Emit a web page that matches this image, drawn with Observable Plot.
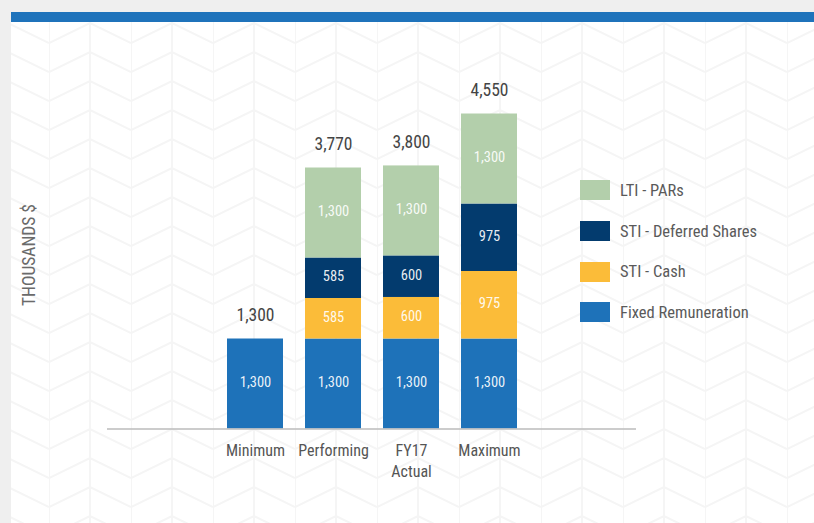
<!DOCTYPE html>
<html>
<head>
<meta charset="utf-8">
<script src="https://cdn.jsdelivr.net/npm/d3@7"></script>
<script src="https://cdn.jsdelivr.net/npm/@observablehq/plot@0.6"></script>
<style>
  html, body { margin: 0; padding: 0; background: #efefef; }
  #wrap { position: relative; width: 814px; height: 523px; overflow: hidden; font-family: Roboto, sans-serif; font-stretch: 87%; }
  #page { position: absolute; left: 11px; top: 12px; right: 0; bottom: 0; background-color: #fff; }
  #topbar { position: absolute; left: 11px; top: 12px; right: 0; height: 10px; background: #1f73bb; }
  #chart { position: absolute; left: 0; top: 0; }
  #ylabel { position: absolute; left: 29px; top: 255px; transform: translate(-50%, -50%) rotate(-90deg); font-size: 17.5px; color: #6a6a6a; white-space: nowrap; }
  #legend { position: absolute; left: 580px; top: 170px; }
  .item { display: flex; align-items: center; height: 40.7px; }
  .sw { width: 30px; height: 20px; margin-right: 10px; }
  .lab { font-size: 16.5px; color: #5a5a5a; }
</style>
</head>
<body>
<div id="wrap">
  <div id="page"></div>
  <div id="topbar"></div>
  <div id="chart"></div>
  <div id="ylabel">THOUSANDS $</div>
  <div id="legend"></div>
</div>
<script>
const categories = ["Minimum", "Performing", "FY17\nActual", "Maximum"];
const seriesNames = ["Fixed Remuneration", "STI - Cash", "STI - Deferred Shares", "LTI - PARs"];
const seriesColors = ["#1e72b9", "#fbbc39", "#033b6e", "#b3cfab"];
const fixedRemuneration = [1300, 1300, 1300, 1300];
const stiCash = [0, 585, 600, 975];
const stiDeferred = [0, 585, 600, 975];
const ltiPars = [0, 1300, 1300, 1300];

// chevron background pattern
const pat = `<svg xmlns='http://www.w3.org/2000/svg' width='82' height='29'>
<g fill='none' stroke='#f5f5f5' stroke-width='2'>
<path d='M0,20 L41,0 L82,20 M0,-9 L41,-29 L82,-9 M0,49 L41,29 L82,49'/>
<path d='M0,0 V29 M41,0 V29'/></g></svg>`;
const page = document.getElementById("page");
page.style.backgroundImage = `url("data:image/svg+xml,${encodeURIComponent(pat)}")`;
page.style.backgroundPosition = "38px 11px";

const seriesValues = [fixedRemuneration, stiCash, stiDeferred, ltiPars];
const data = [];
seriesNames.forEach((s, si) => {
  categories.forEach((c, ci) => {
    const v = seriesValues[si][ci];
    if (v > 0) data.push({cat: c, series: s, value: v, order: si});
  });
});
const totals = categories.map((c, ci) => ({cat: c, total: d3.sum(seriesValues, sv => sv[ci])}));

const font = 'Roboto, sans-serif';

const chart = Plot.plot({
  width: 814,
  height: 523,
  marginLeft: 107,
  marginRight: 178,
  marginTop: 113.5,
  marginBottom: 94.5,
  style: {background: "transparent", fontFamily: font, fontStretch: "87%"},
  x: {domain: categories, range: [107, 636], paddingInner: 0.285, paddingOuter: 1.52, label: null},
  y: {domain: [0, 4550], range: [428.5, 113.5], axis: null},
  color: {domain: seriesNames, range: seriesColors},
  marks: [
    Plot.barY(data, Plot.stackY({x: "cat", y: "value", fill: "series", order: "order", inset: 0})),
    Plot.text(data, Plot.stackY({x: "cat", y: "value", z: "series", order: "order",
      text: d => d3.format(",")(d.value), fill: "white", fontSize: 14.5, fillOpacity: 0.92, dy: -1.5})),
    Plot.text(totals, {x: "cat", y: "total", text: d => d3.format(",")(d.total), dy: -24, fontSize: 17.5, fill: "#444"}),
    Plot.ruleY([0], {stroke: "#bbb", strokeWidth: 1.5}),
    Plot.axisX({tickSize: 0, tickPadding: 12, fontSize: 16, color: "#555", lineHeight: 1.3, label: null})
  ]
});
document.getElementById("chart").appendChild(chart);

const legend = document.getElementById("legend");
[3, 2, 1, 0].forEach(i => {
  const it = document.createElement("div");
  it.className = "item";
  it.innerHTML = `<div class="sw" style="background:${seriesColors[i]}"></div><div class="lab">${seriesNames[i]}</div>`;
  legend.appendChild(it);
});
</script>
</body>
</html>
